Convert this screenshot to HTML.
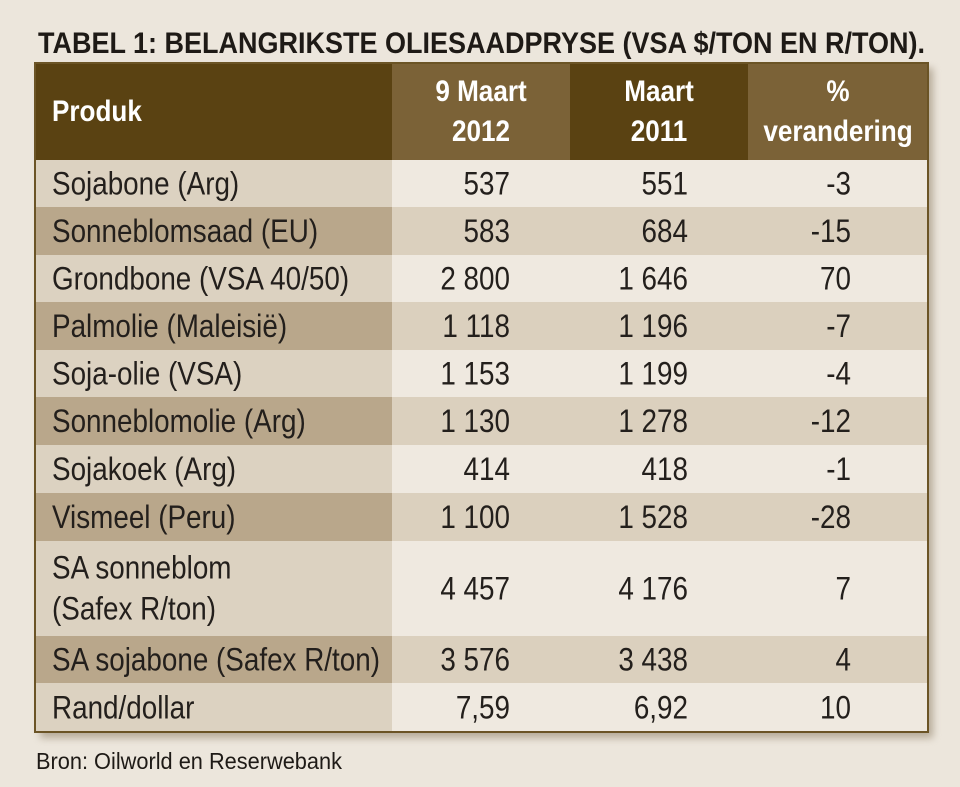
<!DOCTYPE html>
<html><head><meta charset="utf-8"><style>
html,body{margin:0;padding:0;background:#ece6dc;}
svg{display:block;font-family:"Liberation Sans",sans-serif;}
</style></head><body>
<svg id="chart" width="960" height="787" viewBox="0 0 960 787" xmlns="http://www.w3.org/2000/svg">
<defs><filter id="sh" x="-5%" y="-5%" width="115%" height="115%"><feGaussianBlur stdDeviation="4"/></filter></defs>
<rect x="0" y="0" width="960" height="787" fill="#ece6dc"/>
<text x="38" y="53" font-size="30" font-weight="bold" fill="#1e1a16" textLength="887" lengthAdjust="spacingAndGlyphs">TABEL 1: BELANGRIKSTE OLIESAADPRYSE (VSA $/TON EN R/TON).</text>
<rect x="40" y="68" width="893" height="670" fill="#8a7a62" opacity="0.55" filter="url(#sh)"/>
<g id="tbl"></g>
<text x="36" y="769" font-size="23" fill="#1e1a16" textLength="306" lengthAdjust="spacingAndGlyphs">Bron: Oilworld en Reserwebank</text>
</svg>
<script>
const products = ["Sojabone (Arg)","Sonneblomsaad (EU)","Grondbone (VSA 40/50)","Palmolie (Maleisië)","Soja-olie (VSA)","Sonneblomolie (Arg)","Sojakoek (Arg)","Vismeel (Peru)","SA sonneblom|(Safex R/ton)","SA sojabone (Safex R/ton)","Rand/dollar"];
const price2012 = ["537","583","2 800","1 118","1 153","1 130","414","1 100","4 457","3 576","7,59"];
const price2011 = ["551","684","1 646","1 196","1 199","1 278","418","1 528","4 176","3 438","6,92"];
const pctChange = ["-3","-15","70","-7","-4","-12","-1","-28","7","4","10"];
const rowBounds = [160,207,255,302,350,397,445,493,541,636,683,732];

const NS = "http://www.w3.org/2000/svg";
const g = document.getElementById('tbl');
const colX = [35,392,570,748,928];
function mk(tag, attrs, parent){const e=document.createElementNS(NS,tag);for(const k in attrs)e.setAttribute(k,attrs[k]);(parent||g).appendChild(e);return e;}
function txt(str,x,y,size,weight,anchor,fill,parent){
  const t=mk('text',{transform:`translate(${x},${y}) scale(0.87,1)`,'font-size':size,'font-weight':weight,'text-anchor':anchor,fill:fill},parent);
  t.textContent=str;return t;
}
// header
const hdrFill=["#5a4212","#7b6237","#5a4212","#7b6237"];
const hdr=mk('g',{});


for(let c=0;c<4;c++){const r=mk('rect',{x:colX[c],y:63,width:colX[c+1]-colX[c],height:97,fill:hdrFill[c]},hdr);

}
let h=txt("Produk",52,121,30,"bold","start","#fff",hdr);


const hdrs=[["9 Maart","2012",481],["Maart","2011",659],["%","verandering",838]];
hdrs.forEach(a=>{
  let t1=txt(a[0],a[2],101,30,"bold","middle","#fff",hdr);
  
  
  let t2=txt(a[1],a[2],141,30,"bold","middle","#fff",hdr);
  
  
});
// body rows
for(let i=0;i<products.length;i++){
  const y0=rowBounds[i],y1=rowBounds[i+1],hh=y1-y0,cy=(y0+y1)/2;
  const even=i%2===1;
  const row=mk('g',{});
  
  
  mk('rect',{x:colX[0],y:y0,width:colX[1]-colX[0],height:hh,fill:even?"#b9a78b":"#dcd2c1"},row);
  mk('rect',{x:colX[1],y:y0,width:colX[4]-colX[1],height:hh,fill:even?"#dbd0be":"#efe9e0"},row);
  const parts=products[i].split('|');
  if(parts.length===1){
    const t=txt(parts[0],52,cy+11,32,"normal","start","#231f1c",row);
    
    
  } else {
    const t=txt(parts[0],52,cy-10,32,"normal","start","#231f1c",row);
    
    
    const t2=txt(parts[1],52,cy+31,32,"normal","start","#231f1c",row);
    
    
  }
  const v1=txt(price2012[i],510,cy+11,32,"normal","end","#231f1c",row);
  
  
  const v2=txt(price2011[i],688,cy+11,32,"normal","end","#231f1c",row);
  
  
  const v3=txt(pctChange[i],851,cy+11,32,"normal","end","#231f1c",row);
  
  
}
const b=mk('rect',{x:35,y:63,width:893,height:rowBounds[rowBounds.length-1]-63,fill:"none",stroke:"#6b5426","stroke-width":2});


</script>
</body></html>
